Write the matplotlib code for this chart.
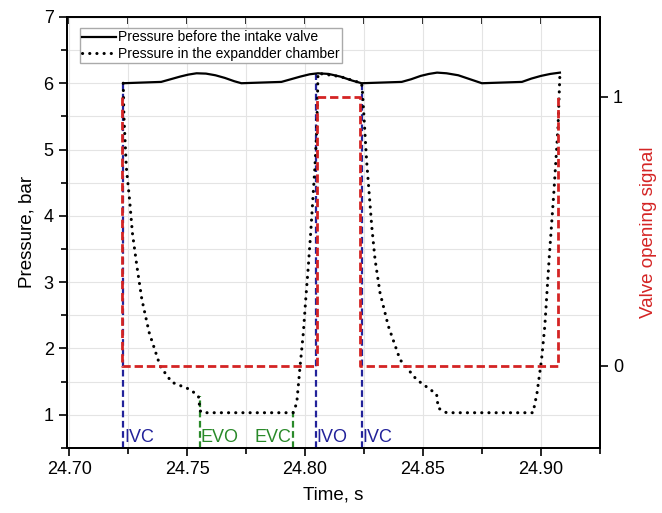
import numpy as np
import matplotlib
matplotlib.use('Agg')
import matplotlib.pyplot as plt
from matplotlib.ticker import MultipleLocator

plt.rcParams['font.family'] = ['Liberation Sans', 'DejaVu Sans']

# pressure before the intake valve (bar)
t_inlet = [24.7229, 24.7390, 24.7430, 24.7470, 24.7505, 24.7540, 24.7580, 24.7620, 24.7660,
           24.7700, 24.7730, 24.7900, 24.7940, 24.7980, 24.8020, 24.8055, 24.8100, 24.8150,
           24.8200, 24.8240, 24.8410, 24.8450, 24.8490, 24.8525, 24.8560, 24.8600, 24.8650,
           24.8700, 24.8750, 24.8920, 24.8960, 24.9000, 24.9040, 24.9081]
p_inlet = [6.00, 6.02, 6.06, 6.10, 6.13, 6.15, 6.145, 6.12, 6.08,
           6.03, 6.00, 6.02, 6.06, 6.10, 6.135, 6.15, 6.14, 6.10,
           6.04, 6.00, 6.02, 6.06, 6.11, 6.14, 6.16, 6.15, 6.12,
           6.06, 6.00, 6.02, 6.07, 6.11, 6.14, 6.16]

# pressure in the expander chamber (bar)
t_chamber = [24.7229, 24.7232, 24.7242, 24.7256, 24.7268, 24.7287, 24.7308, 24.7339,
             24.7386, 24.7435, 24.7513, 24.7548, 24.7555, 24.7564, 24.7950, 24.7965,
             24.7979, 24.7993, 24.8003, 24.8014, 24.8024, 24.8033, 24.8042, 24.8049,
             24.8053, 24.8055, 24.8150, 24.8240, 24.8244, 24.8261, 24.8283, 24.8297,
             24.8318, 24.8353, 24.8403, 24.8473, 24.8558, 24.8565, 24.8600, 24.8967,
             24.8984, 24.9003, 24.9017, 24.9035, 24.9055, 24.9073, 24.9081]
p_chamber = [6.00, 5.50, 4.74, 4.24, 3.74, 3.24, 2.74, 2.24,
             1.73, 1.49, 1.38, 1.28, 1.06, 1.03, 1.03, 1.18,
             1.73, 2.24, 2.74, 3.24, 3.74, 4.24, 4.74, 5.24,
             5.80, 6.15, 6.10, 6.00, 5.85, 4.84, 3.84, 3.34,
             2.84, 2.34, 1.83, 1.53, 1.31, 1.10, 1.03, 1.03,
             1.33, 1.83, 2.34, 3.34, 4.34, 5.34, 6.15]

# valve opening signal (right axis)
t_signal = [24.7223, 24.7223, 24.8051, 24.8051, 24.8233, 24.8233, 24.9073, 24.9073]
v_signal = [1, 0, 0, 1, 1, 0, 0, 1]

# intake valve events
ivc_ivo_t = [24.7229, 24.8046, 24.8241]
ivc_ivo_top = [6.00, 6.15, 6.00]
ivc_ivo_lbl = ['IVC', 'IVO', 'IVC']
# exhaust valve events
ev_t = [24.7553, 24.7948]
ev_top = [1.28, 1.05]
ev_lbl = ['EVO', 'EVC']

blue = '#22229a'
green = '#2a8a2a'
red = '#d42424'

fig = plt.figure(figsize=(6.62, 5.13), dpi=100)
ax = fig.add_axes([0.101, 0.127, 0.805, 0.840])

ax.plot(t_inlet, p_inlet, color='black', lw=1.6, label='Pressure before the intake valve', zorder=4)
ax.plot(t_chamber, p_chamber, color='black', lw=2.2, linestyle=(0, (0.05, 2.3)),
        dash_capstyle='round', label='Pressure in the expandder chamber', zorder=4)

ax.vlines(ivc_ivo_t, 0.5, ivc_ivo_top, colors=blue, linestyles=(0, (3, 1.6)), lw=1.6, zorder=3)
ax.vlines(ev_t, 0.5, ev_top, colors=green, linestyles=(0, (3, 1.6)), lw=1.6, zorder=3)

for t, lbl in zip(ivc_ivo_t, ivc_ivo_lbl):
    ax.text(t + 0.0004, 0.65, lbl, color=blue, fontsize=13, va='center', ha='left')
ax.text(ev_t[0] + 0.0004, 0.65, ev_lbl[0], color=green, fontsize=13, va='center', ha='left')
ax.text(ev_t[1] - 0.0004, 0.65, ev_lbl[1], color=green, fontsize=13, va='center', ha='right')

ax.set_xlim(24.699, 24.925)
ax.set_ylim(0.5, 7)
ax.xaxis.set_major_locator(MultipleLocator(0.05))
ax.xaxis.set_minor_locator(MultipleLocator(0.025))
ax.yaxis.set_major_locator(MultipleLocator(1))
ax.yaxis.set_minor_locator(MultipleLocator(0.5))
ax.xaxis.set_major_formatter(matplotlib.ticker.FormatStrFormatter('%.2f'))
ax.grid(which='both', color='#e4e4e4', lw=0.8, zorder=0)
ax.set_axisbelow(True)
ax.tick_params(which='major', direction='out', length=6, width=1.2, labelsize=13)
ax.tick_params(which='minor', direction='out', length=4, width=1.2)
ax.set_xlabel('Time, s', fontsize=13.5, labelpad=6)
ax.set_ylabel('Pressure, bar', fontsize=13.5, labelpad=6)
for s in ax.spines.values():
    s.set_linewidth(1.3)

top = ax.secondary_xaxis('top')
top.xaxis.set_major_locator(MultipleLocator(0.05))
top.xaxis.set_minor_locator(MultipleLocator(0.025))
top.tick_params(which='both', direction='in', length=5, width=1.2, labeltop=False)

ax.legend(loc='upper left', bbox_to_anchor=(0.024, 0.975), borderaxespad=0, fontsize=10,
          handlelength=2.4, handletextpad=0.15, labelspacing=0.15, borderpad=0.2,
          fancybox=False, edgecolor='#aaaaaa', framealpha=1)

ax2 = ax.twinx()
ax2.plot(t_signal, v_signal, color=red, lw=2.0, linestyle=(0, (3, 1.4)), zorder=5)
ax2.set_ylim(-0.305, 1.297)
ax2.set_yticks([0, 1])
ax2.tick_params(direction='out', length=6, width=1.2, labelsize=13)
ax2.set_ylabel('Valve opening signal', color=red, fontsize=13.5, labelpad=12)
for s in ax2.spines.values():
    s.set_linewidth(1.3)

fig.savefig('out.png', dpi=100)
